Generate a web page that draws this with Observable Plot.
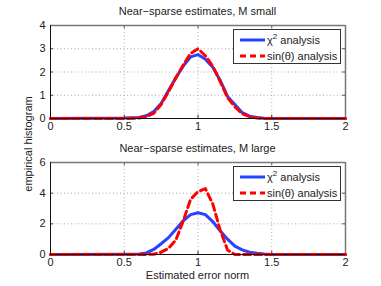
<!DOCTYPE html>
<html>
<head>
<meta charset="utf-8">
<script src="https://cdn.jsdelivr.net/npm/d3@7"></script>
<script src="https://cdn.jsdelivr.net/npm/@observablehq/plot@0.6"></script>
<style>
  html, body { margin: 0; padding: 0; background: white; }
  #wrap { position: relative; width: 381px; height: 286px; font-family: "Liberation Sans", Arial, sans-serif; color: #222; }
  .abs { position: absolute; }
  .title { font-size: 11px; text-align: center; width: 300px; left: 47.5px; }
  .legend { position: absolute; left: 233px; width: 106px; height: 33px; border: 1px solid #333; background: white; font-size: 11px; }
  .legend svg { position: absolute; left: 0; top: 0; }
</style>
</head>
<body>
<div id="wrap"></div>
<script>
// x positions of histogram bins
const xs = [0, 0.5, 0.6, 0.65, 0.7, 0.75, 0.8, 0.85, 0.9, 0.95, 1.0, 1.05, 1.1, 1.15, 1.2, 1.25, 1.3, 1.35, 1.4, 1.45, 1.5, 2.0];
// Top panel: M small
const smallChi = [0, 0.02, 0.04, 0.12, 0.3, 0.65, 1.2, 1.75, 2.25, 2.65, 2.75, 2.55, 2.2, 1.65, 0.95, 0.6, 0.25, 0.1, 0.04, 0.01, 0, 0];
const smallSin = [0, 0.0, 0.02, 0.08, 0.22, 0.6, 1.15, 1.75, 2.3, 2.8, 3.0, 2.7, 2.25, 1.6, 0.9, 0.5, 0.2, 0.08, 0.02, 0, 0, 0];
// Bottom panel: M large
const largeChi = [0, 0.02, 0.04, 0.1, 0.33, 0.7, 1.1, 1.65, 2.2, 2.6, 2.72, 2.6, 2.15, 1.55, 1.0, 0.55, 0.3, 0.15, 0.08, 0.03, 0, 0];
const largeSin = [0, 0, 0, 0, 0.02, 0.15, 0.4, 0.95, 2.2, 3.6, 4.1, 4.3, 3.3, 1.6, 0.3, 0, 0, 0, 0, 0, 0, 0];

const xTicks = [0, 0.5, 1, 1.5, 2];
const yTicksSmall = [0, 1, 2, 3, 4];
const yTicksLarge = [0, 2, 4, 6];
const titles = ["Near\u2212sparse estimates, M small", "Near\u2212sparse estimates, M large"];
const seriesNames = ["\u03C7\u00B2 analysis", "sin(\u03B8) analysis"];
const yLabel = "empirical histogram";
const xLabel = "Estimated error norm";

const BLUE = "#2643ff";
const RED = "#ff0000";

function panel(chi, sin, yTicks, mTop, mBottom) {
  const ymax = yTicks[yTicks.length - 1];
  const dChi = xs.map((x, i) => ({x, y: chi[i]}));
  const dSin = xs.map((x, i) => ({x, y: sin[i]}));
  return Plot.plot({
    width: 381, height: 143,
    marginLeft: 50, marginRight: 36, marginTop: mTop, marginBottom: mBottom,
    style: {fontFamily: "'Liberation Sans', Arial, sans-serif", fontSize: "11px", color: "#222", background: "white", overflow: "visible"},
    x: {domain: [0, 2], label: null},
    y: {domain: [0, ymax], label: null},
    marks: [
      Plot.ruleX(xTicks.slice(1, -1), {x: d => d, stroke: "#aaa", strokeDasharray: "1,2.5"}),
      Plot.ruleY(yTicks.slice(1, -1), {y: d => d, stroke: "#aaa", strokeDasharray: "1,2.5"}),
      Plot.ruleX(xTicks, {x: d => d, y1: 0, y2: ymax * 0.035, stroke: "#333"}),
      Plot.ruleX(xTicks, {x: d => d, y1: ymax * 0.965, y2: ymax, stroke: "#555"}),
      Plot.ruleY(yTicks, {y: d => d, x1: 0, x2: 0.02, stroke: "#333"}),
      Plot.ruleY(yTicks, {y: d => d, x1: 1.98, x2: 2, stroke: "#555"}),
      Plot.ruleY([ymax], {stroke: "#777", strokeWidth: 1.5}),
      Plot.ruleX([2], {stroke: "#777", strokeWidth: 1.5}),
      Plot.line(dChi, {x: "x", y: "y", stroke: BLUE, strokeWidth: 3, curve: "linear"}),
      Plot.line(dSin, {x: "x", y: "y", stroke: RED, strokeWidth: 3, strokeDasharray: "7,4", curve: "linear"}),
      Plot.ruleY([0], {stroke: "#111", strokeWidth: 1}),
      Plot.ruleX([0], {stroke: "#111", strokeWidth: 1}),
      Plot.axisX(xTicks, {tickSize: 0, tickPadding: 4, label: null, tickFormat: d => String(d), fontSize: 11}),
      Plot.axisY(yTicks, {tickSize: 0, tickPadding: 5, label: null, tickFormat: d => String(d), fontSize: 11})
    ]
  });
}

const wrap = document.getElementById("wrap");

function place(el, left, top) {
  el.style.position = "absolute";
  el.style.left = left + "px";
  el.style.top = top + "px";
  wrap.appendChild(el);
}

place(panel(smallChi, smallSin, yTicksSmall, 25, 25), 0, 0);
place(panel(largeChi, largeSin, yTicksLarge, 19, 32), 0, 143);

function addTitle(text, top) {
  const d = document.createElement("div");
  d.className = "abs title";
  d.textContent = text;
  d.style.top = top + "px";
  wrap.appendChild(d);
}
addTitle(titles[0], 5);
addTitle(titles[1], 142);

// x label
const xl = document.createElement("div");
xl.className = "abs title";
xl.style.fontSize = "11px";
xl.style.top = "269px";
xl.textContent = xLabel;
wrap.appendChild(xl);

// y label (rotated)
const yl = document.createElement("div");
yl.className = "abs";
yl.style.fontSize = "11px";
yl.style.width = "140px";
yl.style.textAlign = "center";
yl.style.left = (28 - 70) + "px";
yl.style.top = (145 - 7) + "px";
yl.style.transform = "rotate(-90deg)";
yl.textContent = yLabel;
wrap.appendChild(yl);

function legend(top) {
  const d = document.createElement("div");
  d.className = "legend";
  d.style.top = top + "px";
  const ns = "http://www.w3.org/2000/svg";
  const svg = document.createElementNS(ns, "svg");
  svg.setAttribute("width", 106);
  svg.setAttribute("height", 33);
  const rows = [{c: BLUE, dash: null, y: 10}, {c: RED, dash: "6,4", y: 26}];
  rows.forEach((r, i) => {
    const l = document.createElementNS(ns, "line");
    l.setAttribute("x1", 6); l.setAttribute("x2", 31);
    l.setAttribute("y1", r.y); l.setAttribute("y2", r.y);
    l.setAttribute("stroke", r.c); l.setAttribute("stroke-width", 3);
    if (r.dash) l.setAttribute("stroke-dasharray", r.dash);
    svg.appendChild(l);
    const t = document.createElementNS(ns, "text");
    t.setAttribute("x", 33); t.setAttribute("y", r.y + 4);
    t.setAttribute("font-size", 11);
    t.setAttribute("fill", "#222");
    if (i === 0) {
      t.appendChild(document.createTextNode("\u03C7"));
      const sup = document.createElementNS(ns, "tspan");
      sup.setAttribute("dy", -5); sup.setAttribute("font-size", 8);
      sup.textContent = "2";
      t.appendChild(sup);
      const rest = document.createElementNS(ns, "tspan");
      rest.setAttribute("dy", 5);
      rest.textContent = " analysis";
      t.appendChild(rest);
    } else {
      t.textContent = seriesNames[1];
    }
    svg.appendChild(t);
  });
  d.appendChild(svg);
  wrap.appendChild(d);
}
legend(29);
legend(166);
</script>
</body>
</html>
